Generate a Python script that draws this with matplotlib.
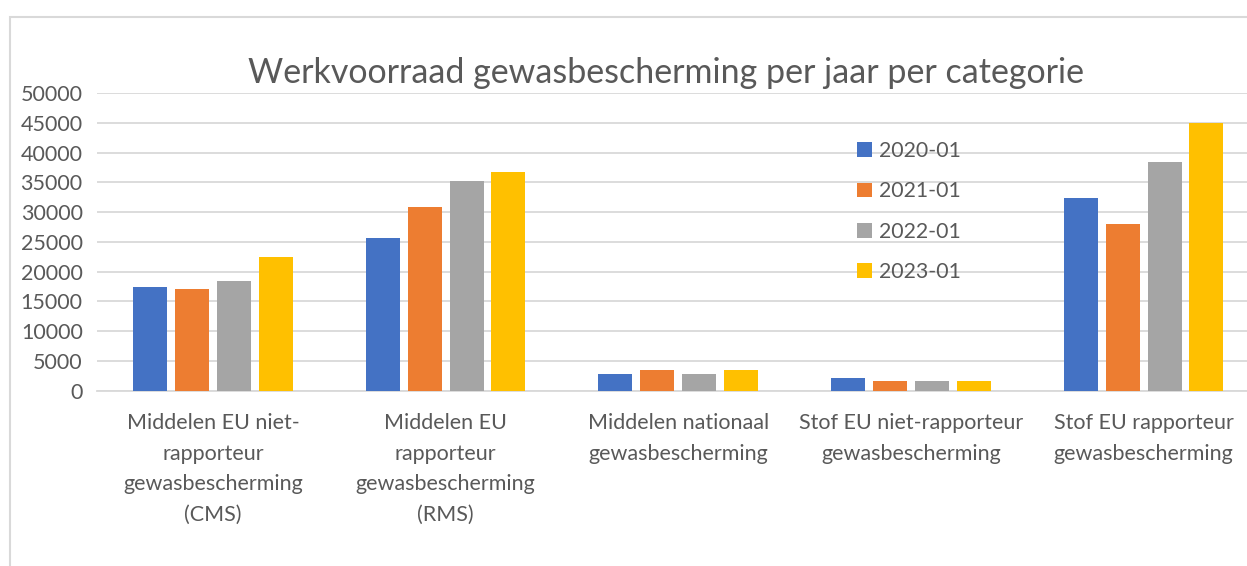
import matplotlib
matplotlib.use("Agg")
import matplotlib.pyplot as plt
import numpy as np
from matplotlib.patches import Rectangle

categories = [
    "Middelen EU niet-\nrapporteur\ngewasbescherming\n(CMS)",
    "Middelen EU\nrapporteur\ngewasbescherming\n(RMS)",
    "Middelen nationaal\ngewasbescherming",
    "Stof EU niet-rapporteur\ngewasbescherming",
    "Stof EU rapporteur\ngewasbescherming",
]
series_names = ["2020-01", "2021-01", "2022-01", "2023-01"]
v2020 = [17500, 25600, 2850, 2080, 32400]
v2021 = [17100, 30850, 3480, 1680, 28000]
v2022 = [18500, 35300, 2750, 1570, 38400]
v2023 = [22400, 36700, 3530, 1630, 45000]
values = [v2020, v2021, v2022, v2023]
colors = ["#4472C4", "#ED7D31", "#A5A5A5", "#FFC000"]
yticks = list(range(0, 50001, 5000))

plt.rcParams['font.family'] = ['Lato', 'DejaVu Sans']
txt = "#595959"

fig = plt.figure(figsize=(12.47, 5.66), dpi=100)
# chart border
fig.patches.append(Rectangle((10/1247, -0.1), 1.2, 1 - 17/566 + 0.1, transform=fig.transFigure,
                             fill=False, edgecolor="#D9D9D9", linewidth=1.5))

left = 96.6/1247
right = 1260/1247
bottom = 1 - 390.7/566
top = 1 - 93/566
ax = fig.add_axes([left, bottom, right - left, top - bottom])

x = np.arange(len(categories))
pitch = 0.18
width = 0.146
for i, (name, vals, c) in enumerate(zip(series_names, values, colors)):
    ax.bar(x + (i - 1.5) * pitch, vals, width, color=c, label=name, zorder=3)

ax.set_xlim(-0.5, len(categories) - 0.5)
ax.set_ylim(0, 50000)
ax.set_yticks(yticks)
ax.set_yticklabels([str(t) for t in yticks])
ax.yaxis.grid(True, color="#D9D9D9", linewidth=1.3, zorder=0)
ax.set_axisbelow(True)
for s in ["left", "right", "top"]:
    ax.spines[s].set_visible(False)
ax.spines["bottom"].set_color("#D9D9D9")
ax.spines["bottom"].set_linewidth(1.3)
ax.tick_params(axis="y", length=0, pad=10, labelsize=15.5, labelcolor=txt)
ax.tick_params(axis="x", length=0, pad=16, labelsize=15.5, labelcolor=txt)
ax.set_xticks(x)
ax.set_xticklabels(categories, linespacing=1.67)

fig.text(666/1247, 1 - 73/566, "Werkvoorraad gewasbescherming per jaar per categorie",
         ha="center", va="center", fontsize=24.5, color=txt)

fig.legend(loc="upper left", bbox_to_anchor=(853/1247, 1 - 137/566), frameon=False,
           fontsize=15.3, labelcolor=txt, handlelength=0.7, handleheight=0.7,
           handletextpad=0.3, labelspacing=0.95, borderaxespad=0, borderpad=0.2)

fig.savefig("out.png", dpi=100)
